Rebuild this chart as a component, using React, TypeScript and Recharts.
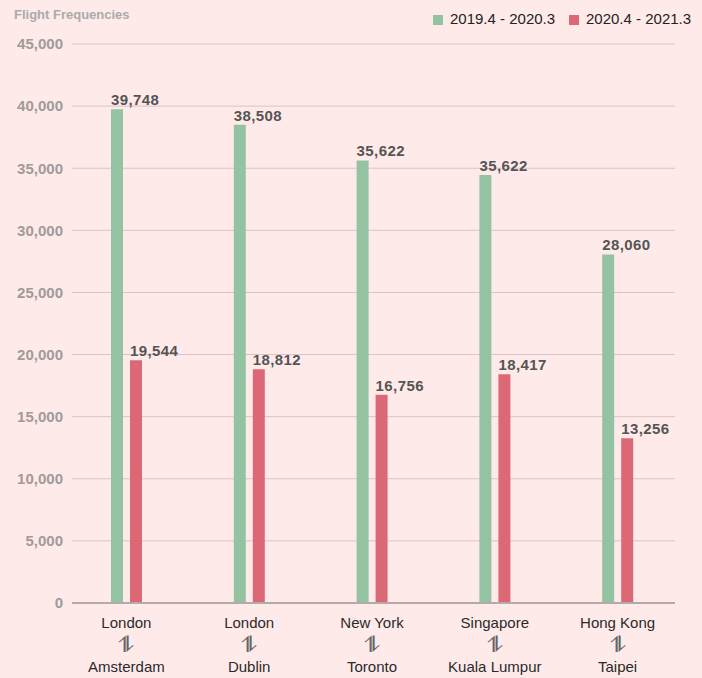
import React from 'react';
import { BarChart, Bar, XAxis, YAxis, CartesianGrid, LabelList } from 'recharts';

const origins = ['London', 'London', 'New York', 'Singapore', 'Hong Kong'];
const destinations = ['Amsterdam', 'Dublin', 'Toronto', 'Kuala Lumpur', 'Taipei'];
const before = [39748, 38508, 35622, 34450, 28060];
const beforeLabels = ['39,748', '38,508', '35,622', '35,622', '28,060'];
const after = [19544, 18812, 16756, 18417, 13256];
const afterLabels = ['19,544', '18,812', '16,756', '18,417', '13,256'];
const yTicks = [0, 5000, 10000, 15000, 20000, 25000, 30000, 35000, 40000, 45000];
const seriesNames = ['2019.4 - 2020.3', '2020.4 - 2021.3'];

const GREEN = '#93c3a1';
const RED = '#dc6876';
const BG = '#ffeaea';
const FONT = '"Liberation Sans", Arial, Helvetica, sans-serif';

const data = origins.map((o, i) => ({
  key: String(i),
  origin: o,
  dest: destinations[i],
  before: before[i],
  beforeLabel: beforeLabels[i],
  after: after[i],
  afterLabel: afterLabels[i],
}));

const XTick = (props: any) => {
  const { x, y, payload } = props;
  const d = data[Number(payload.value)];
  return (
    <g>
      <text x={x} y={y + 25} textAnchor="middle" fontSize={15} fill="#2a2a2a" fontFamily={FONT}>{d.origin}</text>
      <text
        x={x}
        y={y + 49}
        textAnchor="middle"
        fontSize={22}
        fill="#666"
        fontFamily='"DejaVu Sans", sans-serif'
      >
        ⥮
      </text>
      <text x={x} y={y + 69} textAnchor="middle" fontSize={15} fill="#2a2a2a" fontFamily={FONT}>{d.dest}</text>
    </g>
  );
};

const BarLabel = (props: any) => {
  const { x, y, value } = props;
  return (
    <text x={x} y={y - 4} textAnchor="start" fontSize={15} fontWeight="bold" fill="#555" letterSpacing={0.4} fontFamily={FONT}>{value}</text>
  );
};

export default function App() {
  return (
    <div style={{ position: 'fixed', left: 0, top: 0, width: 702, height: 678, background: BG, fontFamily: FONT }}>
      <div style={{ position: 'absolute', left: 14, top: 7, fontSize: 13, fontWeight: 'bold', color: '#aaa' }}>Flight Frequencies</div>
      <div style={{ position: 'absolute', left: 433, top: 15, width: 10, height: 10, background: GREEN }} />
      <div style={{ position: 'absolute', left: 450, top: 10, fontSize: 15, color: '#222', lineHeight: '17px' }}>{seriesNames[0]}</div>
      <div style={{ position: 'absolute', left: 569, top: 15, width: 10, height: 10, background: RED }} />
      <div style={{ position: 'absolute', left: 586, top: 10, fontSize: 15, color: '#222', lineHeight: '17px' }}>{seriesNames[1]}</div>
      <div style={{ position: 'absolute', left: 0, top: 0 }}>
        <BarChart width={702} height={678} data={data} margin={{ top: 44, right: 27, bottom: 0, left: 0 }} barSize={12} barGap={7}>
          <CartesianGrid vertical={false} stroke="#d9c3c7" strokeWidth={1} />
          <XAxis
            dataKey="key"
            height={75}
            axisLine={{ stroke: '#b3aaaa', strokeWidth: 2 }}
            tickLine={false}
            tickSize={0}
            tickMargin={0}
            padding={{ left: -7, right: -4 }}
            tick={<XTick />}
            interval={0}
          />
          <YAxis
            width={72}
            domain={[0, 45000]}
            ticks={yTicks}
            axisLine={false}
            tickLine={false}
            tickSize={0}
            tickMargin={9}
            tickFormatter={(v: number) => v.toLocaleString('en-US')}
            tick={{ fontSize: 15, fontWeight: 'bold', fill: '#a09a9a', fontFamily: FONT }}
          />
          <Bar dataKey="before" fill={GREEN} isAnimationActive={false}>
            <LabelList dataKey="beforeLabel" content={<BarLabel />} />
          </Bar>
          <Bar dataKey="after" fill={RED} isAnimationActive={false}>
            <LabelList dataKey="afterLabel" content={<BarLabel />} />
          </Bar>
        </BarChart>
      </div>
    </div>
  );
}
